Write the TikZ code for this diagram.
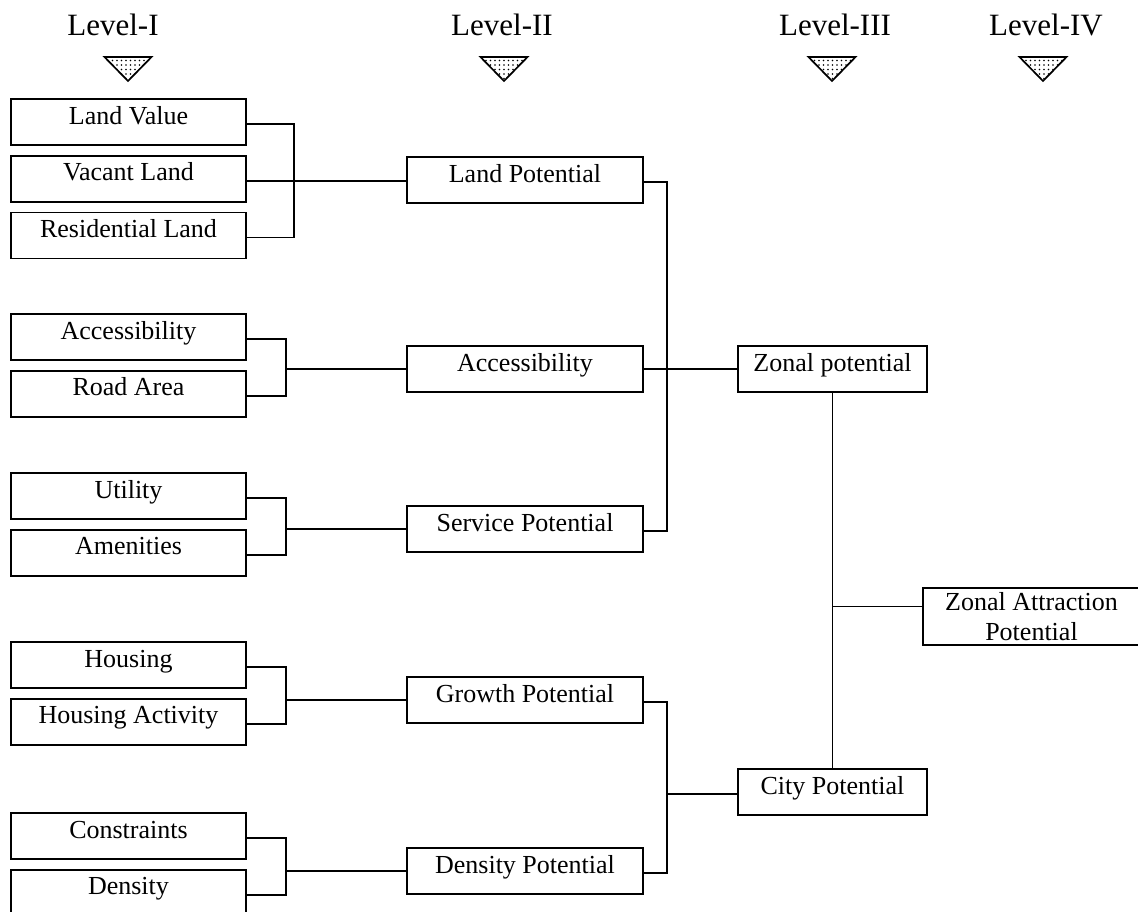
\documentclass[tikz,border=0pt]{standalone}
\usepackage{fontspec}
\setmainfont{Liberation Serif}
\usetikzlibrary{positioning,patterns.meta}

\begin{document}
\begin{tikzpicture}[
  x=1pt, y=-1pt,
  box/.style={draw, line width=1.7pt, font=\fontsize{26}{30}\selectfont,
              text height=19pt, text depth=15pt, inner ysep=6pt, inner xsep=0pt},
  lone/.style={box, minimum width=235pt},
  ltwo/.style={box, minimum width=236pt},
  lthree/.style={box, minimum width=189pt},
  level/.style={font=\fontsize{31}{36}\selectfont, anchor=base},
  marker/.style={line width=1.7pt, pattern color=black,
                 pattern={Dots[distance=4.5pt, radius=0.8pt]}},
  link/.style={line width=1.7pt},
]
  \useasboundingbox (0,0) rectangle (1138,911);

  % level headers
  \node[level] (hone) at (113,35) {Level-I};
  \node[level] (htwo) at (502,35) {Level-II};
  \node[level] (hthree) at (835,35) {Level-III};
  \node[level] (hfour) at (1046,35) {Level-IV};
  \foreach \x in {128,504,832,1043}
    \draw[marker] (\x-23.5,57) -- (\x+23.5,57) -- (\x,81) -- cycle;

  % level I
  \node[lone] (lv) at (128.5,122) {Land Value};
  \node[lone, below=9pt of lv] (vl) {Vacant Land};
  \node[lone, below=9pt of vl] (rl) {Residential Land};
  \node[lone] (acc) at (128.5,337) {Accessibility};
  \node[lone, below=9pt of acc] (road) {Road Area};
  \node[lone] (util) at (128.5,496) {Utility};
  \node[lone, below=9pt of util] (amen) {Amenities};
  \node[lone] (hous) at (128.5,665) {Housing};
  \node[lone, below=9pt of hous] (hact) {Housing Activity};
  \node[lone] (cons) at (128.5,836) {Constraints};
  \node[lone, below=9pt of cons] (dens) {Density};

  % level II
  \node[ltwo] (landp) at (525,180) {Land Potential};
  \node[ltwo] (accp) at (525,369) {Accessibility};
  \node[ltwo] (servp) at (525,529) {Service Potential};
  \node[ltwo] (growp) at (525,700) {Growth Potential};
  \node[ltwo] (densp) at (525,871) {Density Potential};

  % level III and IV
  \node[lthree] (zonal) at (832.5,369) {Zonal potential};
  \node[lthree] (city) at (832.5,792) {City Potential};
  \node[box, text height=, text depth=, align=center, inner ysep=4.5pt,
        minimum width=217pt] (zap) at (1031.5,616.5) {Zonal Attraction\\Potential};

  % level I to level II
  \draw[link] (lv.base east) -- ++(47pt,0) |- (rl.base east);
  \draw[link] (vl.base east) -- (vl.base east -| landp.west);
  \draw[link] (acc.base east) -- ++(39pt,0) coordinate (kacc) |- (road.base east);
  \draw[link] (accp.west) -- (accp.west -| kacc);
  \draw[link] (util.base east) -- ++(39pt,0) coordinate (kserv) |- (amen.base east);
  \draw[link] (servp.west) -- (servp.west -| kserv);
  \draw[link] (hous.base east) -- ++(39pt,0) coordinate (kgrow) |- (hact.base east);
  \draw[link] (growp.west) -- (growp.west -| kgrow);
  \draw[link] (cons.base east) -- ++(39pt,0) coordinate (kdens) |- (dens.base east);
  \draw[link] (densp.west) -- (densp.west -| kdens);

  % level II to level III
  \draw[link] (landp.base east) -- ++(23pt,0) |- (servp.base east);
  \draw[link] (accp.east) -- (zonal.west);
  \draw[link] (growp.base east) -- ++(23pt,0) coordinate (kcity) |- (densp.base east);
  \draw[link] (city.base west) -- (city.base west -| kcity);

  % level III to level IV
  \draw[link] (zonal.south) -- (city.north);
  \draw[link] ([yshift=10pt]zap.west) -- ([yshift=10pt]zap.west -| zonal.south);
\end{tikzpicture}
\end{document}
